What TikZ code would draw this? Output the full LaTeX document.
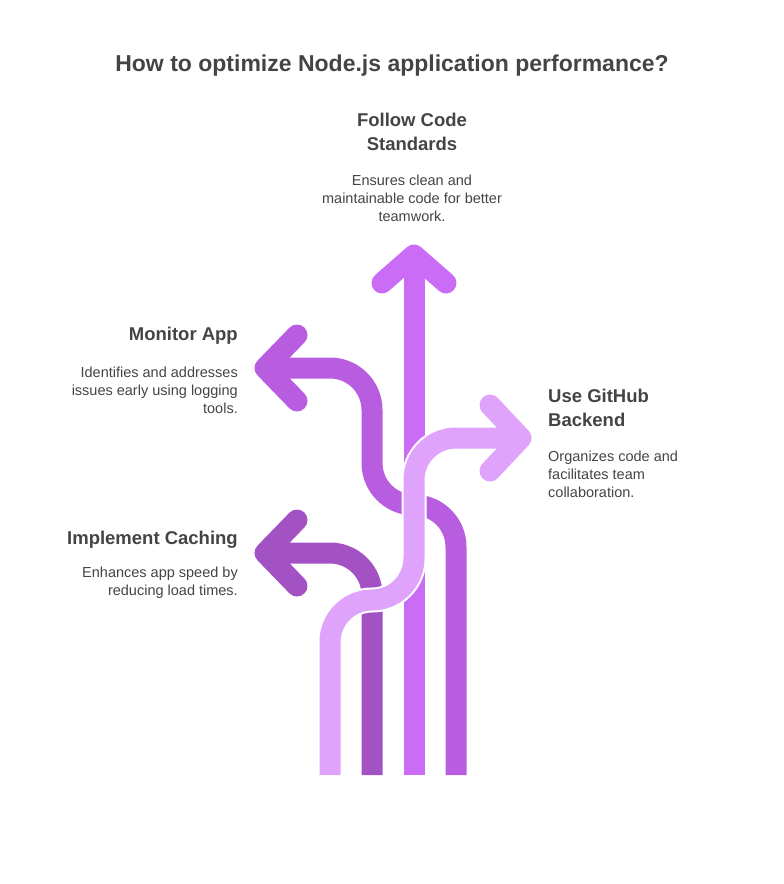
\documentclass[tikz,border=0pt]{standalone}
\usepackage{fontspec}
\setmainfont{Liberation Sans}
\definecolor{cfollow}{HTML}{CB6CF6}
\definecolor{cmon}{HTML}{B85DE0}
\definecolor{ccache}{HTML}{A352C4}
\definecolor{clight}{HTML}{E0A3FC}
\definecolor{ctxt}{HTML}{444444}
\begin{document}
\begin{tikzpicture}[x=1pt,y=-1pt,
  band/.style={line width=21pt,rounded corners=42pt},
  head/.style={line width=21pt,line cap=round,line join=round},
  ttl/.style={font=\fontsize{23}{28}\selectfont\bfseries,text=ctxt,align=center},
  hd/.style={font=\fontsize{18.5}{24}\selectfont\bfseries,text=ctxt,inner sep=0pt},
  ds/.style={font=\fontsize{14.5}{18}\selectfont,text=ctxt,inner sep=0pt}]
\useasboundingbox (0,0) rectangle (784,884);
\node[ttl] (title) at (392,66) {How to optimize Node.js application performance?};
% follow
\draw[band,cfollow] (414,775) -- (414,262);
\draw[head,cfollow] (382,283) -- (414,255) -- (446,283);
% monitor
\draw[band,cmon] (456,775) -- (456,505) -- (372,505) -- (372,368) -- (270,368);
\draw[head,cmon] (297,335) -- (265,368) -- (297,401);
% caching
\draw[band,ccache] (372,775) -- (372,553) -- (270,553);
\draw[head,ccache] (297,520) -- (265,553) -- (297,586);
% light
\foreach \c/\w in {white/25,clight/21}{
\draw[line width=\w pt,\c,rounded corners=42pt] (330,775) -- (330,600) -- (414,600) -- (414,438) -- (512,438);}
\draw[head,clight] (490,405) -- (521,438) -- (490,471);
% texts
\node[hd,align=center] (fh) at (412,132) {Follow Code\\Standards};
\node[ds,align=center] (fd) at (412,198) {Ensures clean and\\maintainable code for better\\teamwork.};
\node[hd,anchor=east] (mh) at (238,336) {Monitor App};
\node[ds,align=right,anchor=east] (md) at (238,390) {Identifies and addresses\\issues early using logging\\tools.};
\node[hd,anchor=east] (ch) at (238,540) {Implement Caching};
\node[ds,align=right,anchor=east] (cd) at (238,583) {Enhances app speed by\\reducing load times.};
\node[hd,align=left,anchor=west] (gh) at (548,408) {Use GitHub\\Backend};
\node[ds,align=left,anchor=west] (gd) at (548,474) {Organizes code and\\facilitates team\\collaboration.};
\end{tikzpicture}
\end{document}
